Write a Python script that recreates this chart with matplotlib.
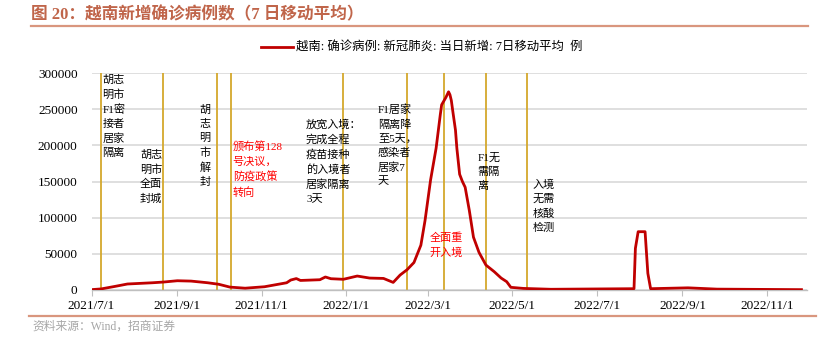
import matplotlib
matplotlib.use("Agg")
import matplotlib.pyplot as plt
import pandas as pd
from matplotlib.lines import Line2D

plt.rcParams['font.family'] = ['Liberation Serif', 'Noto Sans CJK SC', 'DejaVu Sans']

# 7-day moving average of new cases
dates = ["2021-07-01", "2021-07-08", "2021-07-18", "2021-07-27", "2021-08-14", "2021-08-22",
         "2021-09-01", "2021-09-11", "2021-09-23", "2021-10-01", "2021-10-09", "2021-10-20",
         "2021-11-03", "2021-11-19", "2021-11-22", "2021-11-26", "2021-11-29", "2021-12-13",
         "2021-12-17", "2021-12-21", "2021-12-30", "2022-01-09", "2022-01-18", "2022-01-28",
         "2022-02-04", "2022-02-09", "2022-02-14", "2022-02-19", "2022-02-24", "2022-02-27",
         "2022-03-03", "2022-03-07", "2022-03-10", "2022-03-11", "2022-03-14", "2022-03-16",
         "2022-03-17", "2022-03-18", "2022-03-19", "2022-03-21", "2022-03-22", "2022-03-23",
         "2022-03-24", "2022-03-26", "2022-03-28",
         "2022-03-31", "2022-04-03", "2022-04-07", "2022-04-12", "2022-04-18", "2022-04-23",
         "2022-04-27", "2022-04-30", "2022-05-09", "2022-05-29", "2022-07-28", "2022-07-29",
         "2022-07-31", "2022-08-05", "2022-08-07", "2022-08-09", "2022-09-05", "2022-09-26",
         "2022-11-26"]
cases = [500, 1500, 5000, 8300, 10000, 11000,
         12800, 12300, 10000, 7900, 4000, 2500,
         4500, 10000, 13800, 15800, 13200, 14200,
         18000, 15600, 14800, 19300, 16500, 16000,
         10500, 20700, 28000, 38000, 62000, 96000,
         152000, 196000, 242000, 256000, 266000, 274000,
         270000, 262000, 248000, 221000, 196000, 178000,
         160000, 150000, 142000,
         110000, 73000, 52000, 34500, 25300, 16500,
         11500, 3700, 2200, 1000, 1800, 57600,
         80600, 80600, 23000, 1800, 3000, 1200,
         500]

# policy events (vertical lines) and their notes
event_dates = ["2021-07-08", "2021-08-22", "2021-09-30", "2021-10-10", "2021-12-30",
               "2022-02-14", "2022-03-13", "2022-04-12", "2022-05-12"]
notes = ["胡志\n明市\nF1密\n接者\n居家\n隔离",
         "胡志\n明市\n全面\n封城",
         "胡\n志\n明\n市\n解\n封",
         "颁布第128\n号决议，\n防疫政策\n转向",
         "放宽入境：\n完成全程\n疫苗接种\n的入境者\n居家隔离\n3天",
         "F1居家\n隔离降\n至5天，\n感染者\n居家7\n天",
         "全面重\n开入境",
         "F1无\n需隔\n离",
         "入境\n无需\n核酸\n检测"]
note_red = [False, False, False, True, False, False, True, False, False]
# where each note sits (left date, top value)
note_x = ["2021-07-09", "2021-08-05", "2021-09-17", "2021-10-11", "2021-12-03",
          "2022-01-24", "2022-03-02", "2022-04-06", "2022-05-16"]
note_y = [298000, 194000, 256000, 205000, 236000, 257000, 79000, 190000, 153000]

tick_dates = ["2021-07-01", "2021-09-01", "2021-11-01", "2022-01-01", "2022-03-01",
              "2022-05-01", "2022-07-01", "2022-09-01", "2022-11-01"]
tick_labels = ["2021/7/1", "2021/9/1", "2021/11/1", "2022/1/1", "2022/3/1",
               "2022/5/1", "2022/7/1", "2022/9/1", "2022/11/1"]

W, H = 826, 351
fig = plt.figure(figsize=(W / 100, H / 100), dpi=100)
ax = fig.add_axes([91.5 / W, 1 - 290 / H, (807 - 91.5) / W, 217 / H])

red = '#C00000'
gold = '#D4A82C'
brown = '#C0654A'

for d in event_dates:
    ax.axvline(pd.Timestamp(d), color=gold, lw=1.3, zorder=2)

ax.plot(pd.to_datetime(dates), cases, color=red, lw=2.0, zorder=3,
        label="越南: 确诊病例: 新冠肺炎: 当日新增: 7日移动平均  例")

for txt, x, y, r in zip(notes, note_x, note_y, note_red):
    ax.text(pd.Timestamp(x), y, txt, ha='left', va='top', fontsize=8,
            color='#FF0000' if r else 'black', linespacing=1.5, zorder=4)

ax.set_xlim(pd.Timestamp("2021-07-01"), pd.Timestamp("2022-11-30"))
ax.set_ylim(0, 300000)
ax.set_yticks(range(0, 300001, 50000))
ax.set_yticklabels([str(v) for v in range(0, 300001, 50000)], fontsize=9.5)
ax.set_xticks(pd.to_datetime(tick_dates))
ax.set_xticklabels(tick_labels, fontsize=9.5)

ax.yaxis.grid(True, color='#D9D9D9', lw=1.2)
ax.set_axisbelow(True)
for s in ['top', 'right', 'left']:
    ax.spines[s].set_visible(False)
ax.spines['bottom'].set_color('#BFBFBF')
ax.spines['bottom'].set_linewidth(1.0)
ax.tick_params(axis='y', length=0, pad=10)
ax.tick_params(axis='x', length=4, color='#BFBFBF', pad=3)

fig.legend(loc='center', bbox_to_anchor=(421.5 / W, 1 - 48 / H), frameon=False,
           fontsize=8.9, handlelength=2.6, handletextpad=0.25)

fig.text(31 / W, 1 - 15 / H, "图 20：越南新增确诊病例数（7 日移动平均）",
         fontsize=12, fontweight='bold', color=brown, va='center', ha='left')
fig.add_artist(Line2D([31 / W, 808 / W], [1 - 26 / H, 1 - 26 / H], color='#D9967E', lw=1.6))
fig.add_artist(Line2D([29 / W, 816 / W], [1 - 316 / H, 1 - 316 / H], color='#D9967E', lw=1.6))
fig.text(32 / W, 1 - 327 / H, "资料来源：Wind，招商证券", fontsize=8.5, color='#A6A6A6',
         va='center', ha='left')

fig.savefig("out.png", dpi=100)
